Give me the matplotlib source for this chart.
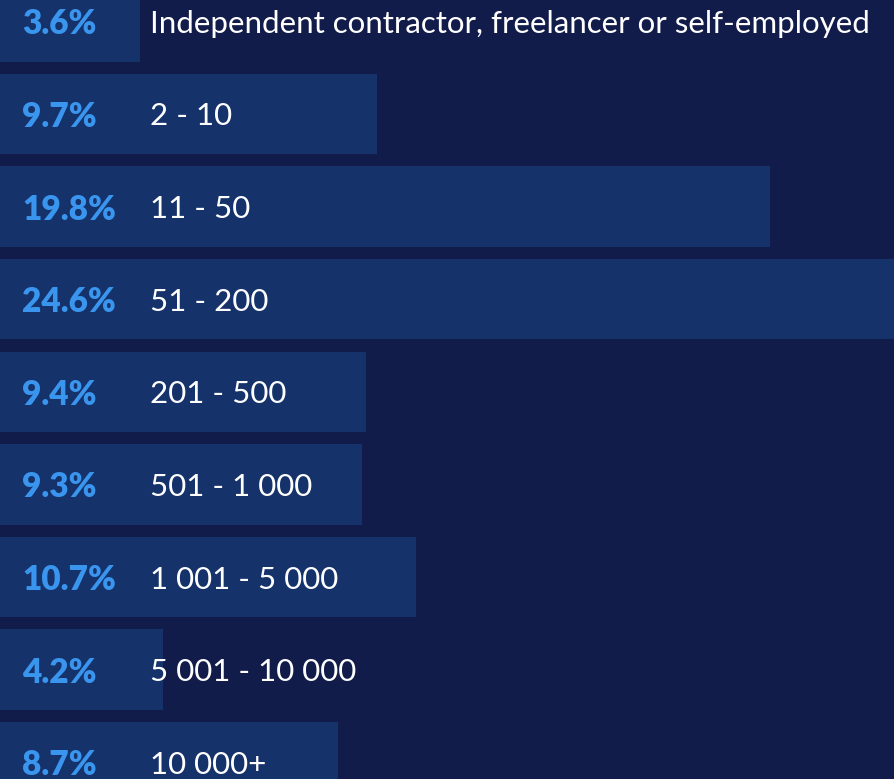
import matplotlib
matplotlib.use("Agg")
import matplotlib.pyplot as plt
import matplotlib.transforms as mtransforms

categories = ["Independent contractor, freelancer or self-employed", "2 - 10", "11 - 50",
              "51 - 200", "201 - 500", "501 - 1 000", "1 001 - 5 000",
              "5 001 - 10 000", "10 000+"]
values = [3.6, 9.7, 19.8, 24.6, 9.4, 9.3, 10.7, 4.2, 8.7]
pct_labels = ["3.6%", "9.7%", "19.8%", "24.6%", "9.4%", "9.3%", "10.7%", "4.2%", "8.7%"]

BG = "#121c4a"
BAR = "#15326a"
PCT = "#3a95ee"

fig = plt.figure(figsize=(8.94, 7.79), dpi=100, facecolor=BG)
ax = fig.add_axes([0, 0, 1, 1])
ax.set_facecolor(BG)

ypos = list(range(len(values)))
ax.barh(ypos, values, height=0.87, color=BAR, linewidth=0)
ax.set_xlim(0, 22.98)
ax.set_ylim(8.181, -0.231)
ax.axis("off")

trans = mtransforms.blended_transform_factory(ax.transAxes, ax.transData)
for y, p, c in zip(ypos, pct_labels, categories):
    ax.text(0.0246, y, p, transform=trans, ha="left", va="center_baseline",
            fontsize=24, fontweight="heavy", color=PCT, family="Lato")
    ax.text(0.168, y, c, transform=trans, ha="left", va="center_baseline",
            fontsize=22.5, color="white", family="Lato")

fig.savefig("out.png", dpi=100, facecolor=BG)
